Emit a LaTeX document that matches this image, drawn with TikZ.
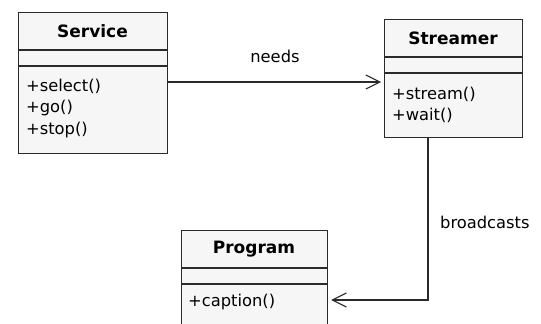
\documentclass[tikz,border=0pt]{standalone}
\usepackage{fontspec}
\setmainfont{DejaVu Sans}
\usetikzlibrary{arrows.meta,calc}
\definecolor{boxfill}{HTML}{F6F6F6}
\definecolor{ink}{HTML}{2A2A2A}
\tikzset{
  classbox/.style={draw=ink, line width=1.2pt, fill=boxfill, rectangle,
    anchor=north west, inner sep=0pt},
  sep/.style={draw=ink, line width=1.2pt},
  title/.style={font=\fontsize{17}{19}\selectfont\bfseries, text=black, inner sep=0pt},
  member/.style={font=\fontsize{16.3}{18}\selectfont, text=black, anchor=west, inner sep=0pt},
  label/.style={font=\fontsize{16.3}{18}\selectfont, text=black, inner sep=0pt},
  assoc/.style={draw=ink, line width=1.1pt,
    -{Straight Barb[length=14pt,width=14pt,line width=1.1pt]}, shorten >=3pt},
}
\begin{document}
\begin{tikzpicture}[x=1pt,y=-1pt]
\useasboundingbox (0,0) rectangle (541,324);

% Service class
\node[classbox, minimum width=149pt, minimum height=141pt] (service) at (18,12) {};
\draw[sep] (18,50) -- (167,50);
\draw[sep] (18,66) -- (167,66);
\node[title] (serviceT) at (92.5,31) {Service};
\node[member] (m1) at (26,86) {+select()};
\node[member] (m2) at (26,108) {+go()};
\node[member] (m3) at (26,130) {+stop()};

% Streamer class
\node[classbox, minimum width=138pt, minimum height=118pt] (streamer) at (384,19) {};
\draw[sep] (384,57) -- (522,57);
\draw[sep] (384,73) -- (522,73);
\node[title] (streamerT) at (453,38) {Streamer};
\node[member] (m4) at (392,94) {+stream()};
\node[member] (m5) at (392,115) {+wait()};

% Program class (runs off the lower edge)
\node[classbox, minimum width=146pt, minimum height=110pt] (program) at (181,230) {};
\draw[sep] (181,268) -- (327,268);
\draw[sep] (181,284) -- (327,284);
\node[title] (programT) at (254,249) {Program};
\node[member] (m6) at (188,302) {+caption()};

% Associations
\coordinate (needsA) at (service.east |- 0,82);
\coordinate (needsB) at (streamer.west |- 0,82);
\draw[assoc] (needsA) -- (needsB);
\node[label] (needs) at (275,56) {needs};

\coordinate (bcA) at (428,137);
\coordinate (bcC) at (428,300);
\coordinate (bcB) at (program.east |- 0,300);
\draw[assoc] (bcA) -- (bcC) -- (bcB);
\node[label, anchor=west] (bc) at (440,222) {broadcasts};
\end{tikzpicture}
\end{document}
